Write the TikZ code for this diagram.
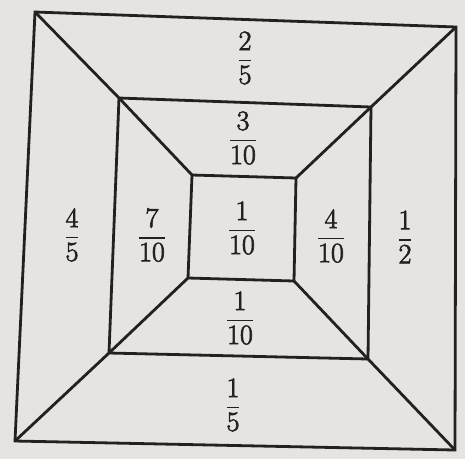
\documentclass[tikz,border=0pt]{standalone}
\usepackage{amsmath}
\usepackage{fontspec}
\newfontfamily\heavy{Latin Modern Roman}[FakeBold=2.5]
\newcommand\myfr[2]{$\genfrac{}{}{1.4pt}{0}{\text{\heavy #1}}{\text{\heavy #2}}$}
\begin{document}
\begin{tikzpicture}[x=1pt,y=-1pt,
  edge/.style={draw=ink,line width=2.8pt,line join=miter},
  frac/.style={text=ink,font=\fontsize{28}{32}\selectfont,inner sep=0pt}]
\definecolor{paper}{RGB}{230,228,225}
\definecolor{ink}{RGB}{34,32,32}
\fill[paper] (0,0) rectangle (465,459);
\useasboundingbox (0,0) rectangle (465,459);
% outer
\coordinate (o1) at (35,12);
\coordinate (o2) at (456,27);
\coordinate (o3) at (455,450);
\coordinate (o4) at (15,441);
% middle
\coordinate (m1) at (119,98);
\coordinate (m2) at (371,107);
\coordinate (m3) at (368,359);
\coordinate (m4) at (109,353);
% inner
\coordinate (i1) at (192,175);
\coordinate (i2) at (296,178);
\coordinate (i3) at (294,281);
\coordinate (i4) at (188,278);
\draw[edge] (o1) -- (o2) -- (o3) -- (o4) -- cycle;
\draw[edge] (m1) -- (m2) -- (m3) -- (m4) -- cycle;
\draw[edge] (i1) -- (i2) -- (i3) -- (i4) -- cycle;
\draw[edge] (o1) -- (m1) -- (i1);
\draw[edge] (o2) -- (m2) -- (i2);
\draw[edge] (o3) -- (m3) -- (i3);
\draw[edge] (o4) -- (m4) -- (i4);
% labels
\node[frac] (a) at (245,58) {\myfr{2}{5}};
\node[frac] (b) at (243,138) {\myfr{3}{10}};
\node[frac] (c) at (72,235) {\myfr{4}{5}};
\node[frac] (d) at (152,235) {\myfr{7}{10}};
\node[frac] (e) at (242,228) {\myfr{1}{10}};
\node[frac] (f) at (331,236) {\myfr{4}{10}};
\node[frac] (g) at (405,237) {\myfr{1}{2}};
\node[frac] (h) at (240,318) {\myfr{1}{10}};
\node[frac] (k) at (233,405) {\myfr{1}{5}};
\end{tikzpicture}
\end{document}
